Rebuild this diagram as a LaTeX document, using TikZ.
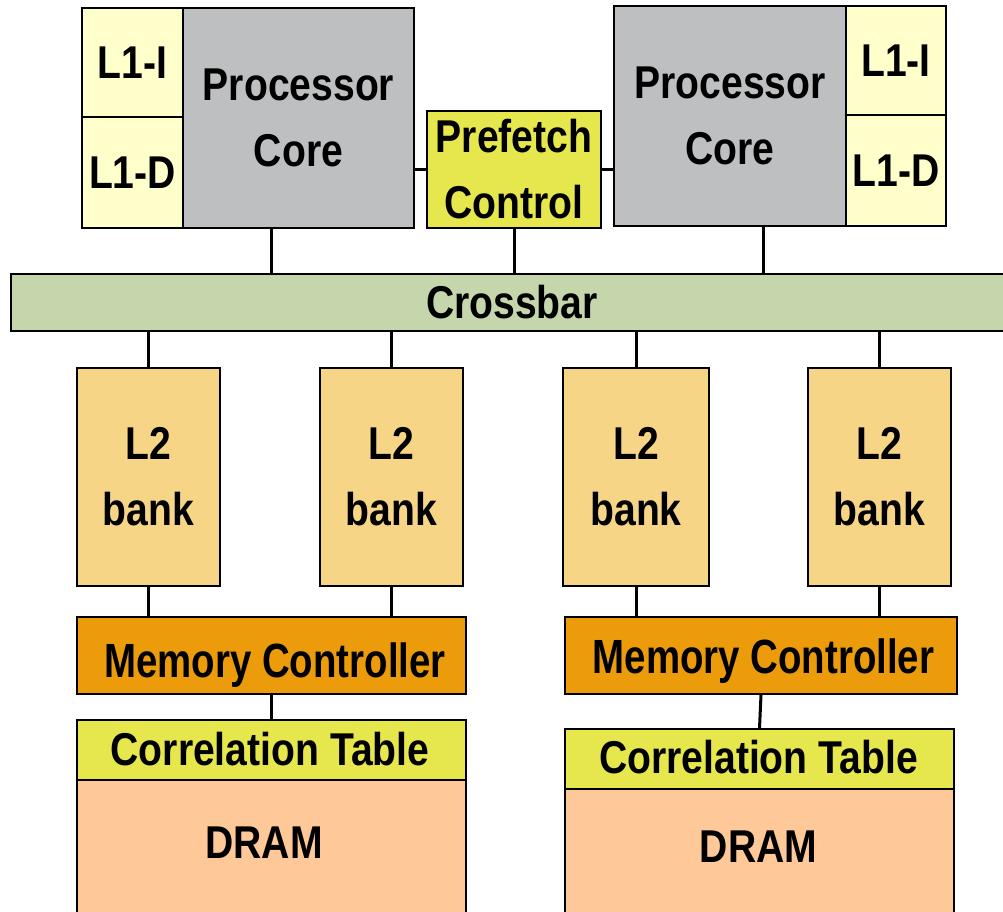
\documentclass[tikz,border=0pt]{standalone}
\usepackage{fontspec}
\setmainfont{Liberation Sans}[FakeStretch=0.85]
\newfontfamily\mcfont{Liberation Sans}[FakeStretch=0.8]
\definecolor{lone}{HTML}{FFFFCC}
\definecolor{coregray}{HTML}{BEBFC1}
\definecolor{pfyel}{HTML}{E6E64D}
\definecolor{xbargreen}{HTML}{C6D6AC}
\definecolor{ltwo}{HTML}{F7D587}
\definecolor{mcorange}{HTML}{EC9B0B}
\definecolor{dramc}{HTML}{FEC898}
\tikzset{
  blk/.style={draw=black, line width=1.8pt, inner sep=0pt, align=center,
    font=\bfseries\fontsize{46}{66}\selectfont},
  conn/.style={draw=black, line width=3pt},
  lbl/.style={inner sep=0pt, anchor=base, font=\bfseries\fontsize{46}{60}\selectfont},
}
\begin{document}
\begin{tikzpicture}[x=1pt,y=-1pt]
\useasboundingbox (0,0) rectangle (1003,912);
% top row
\node[blk, fill=lone, minimum width=101pt, minimum height=109pt] (lL1I) at (132.5,62.5) {L1-I};
\node[blk, fill=lone, minimum width=101pt, minimum height=111pt] (lL1D) at (132.5,172.5) {L1-D};
\node[blk, fill=coregray, minimum width=231pt, minimum height=220pt] (lcore) at (298.5,118) {Processor\\Core};
\node[blk, fill=pfyel, minimum width=174pt, minimum height=117pt] (pf) at (514,169.5) {Prefetch\\Control};
\node[blk, fill=coregray, minimum width=232pt, minimum height=220pt] (rcore) at (730,116) {Processor\\Core};
\node[blk, fill=lone, minimum width=100pt, minimum height=109pt] (rL1I) at (896,60.5) {L1-I};
\node[blk, fill=lone, minimum width=100pt, minimum height=111pt] (rL1D) at (896,170.5) {L1-D};
% crossbar
\node[blk, fill=xbargreen, minimum width=999pt, minimum height=57pt] (xbar) at (510.5,302.5) {};
\node[lbl] (xbartxt) at (512,318) {Crossbar};
% L2 banks
\node[blk, fill=ltwo, minimum width=143pt, minimum height=218pt] (b1) at (148.5,477) {L2\\bank};
\node[blk, fill=ltwo, minimum width=143pt, minimum height=218pt] (b2) at (391.5,477) {L2\\bank};
\node[blk, fill=ltwo, minimum width=146pt, minimum height=218pt] (b3) at (636,477) {L2\\bank};
\node[blk, fill=ltwo, minimum width=143pt, minimum height=218pt] (b4) at (879.5,477) {L2\\bank};
% memory controllers
\node[blk, fill=mcorange, minimum width=389pt, minimum height=77pt] (lmc) at (271.5,655.5) {};
\node[blk, fill=mcorange, minimum width=392pt, minimum height=77pt] (rmc) at (761,655.5) {};
\node[lbl, font=\mcfont\bfseries\fontsize{48}{60}\selectfont] (lmctxt) at (275,677) {Memory Controller};
\node[lbl, font=\mcfont\bfseries\fontsize{48}{60}\selectfont] (rmctxt) at (763.5,673) {Memory Controller};
% DRAM and correlation tables
\node[blk, fill=dramc, minimum width=389pt, minimum height=150pt] (ldram) at (271.5,855) {};
\node[blk, fill=pfyel, minimum width=389pt, minimum height=60pt] (lct) at (271.5,750) {};
\node[blk, fill=dramc, minimum width=389pt, minimum height=141pt] (rdram) at (759.5,859.5) {};
\node[blk, fill=pfyel, minimum width=389pt, minimum height=60pt] (rct) at (759.5,759) {};
\node[lbl] (lcttxt) at (270,765) {Correlation Table};
\node[lbl] (rcttxt) at (758.5,773) {Correlation Table};
\node[lbl] (ldramtxt) at (264,858) {DRAM};
\node[lbl] (rdramtxt) at (758.5,862) {DRAM};
% connectors
\coordinate (cx1) at (271.5,0);
\coordinate (cx2) at (763,0);
\draw[conn] (pf.west -| lcore.east) -- (pf.west);
\draw[conn] (pf.east) -- (pf.east -| rcore.west);
\draw[conn] (cx1 |- lcore.south) -- (cx1 |- xbar.north);
\draw[conn] (pf.south) -- (pf.south |- xbar.north);
\draw[conn] (cx2 |- rcore.south) -- (cx2 |- xbar.north);
\foreach \b in {b1,b2,b3,b4} {
  \draw[conn] (\b.north |- xbar.south) -- (\b.north);
}
\draw[conn] (b1.south) -- (b1.south |- lmc.north);
\draw[conn] (b2.south) -- (b2.south |- lmc.north);
\draw[conn] (b3.south) -- (b3.south |- rmc.north);
\draw[conn] (b4.south) -- (b4.south |- rmc.north);
\draw[conn] (lmc.south) -- (lct.north);
\draw[conn] (rmc.south) -- (rct.north);
\end{tikzpicture}
\end{document}
